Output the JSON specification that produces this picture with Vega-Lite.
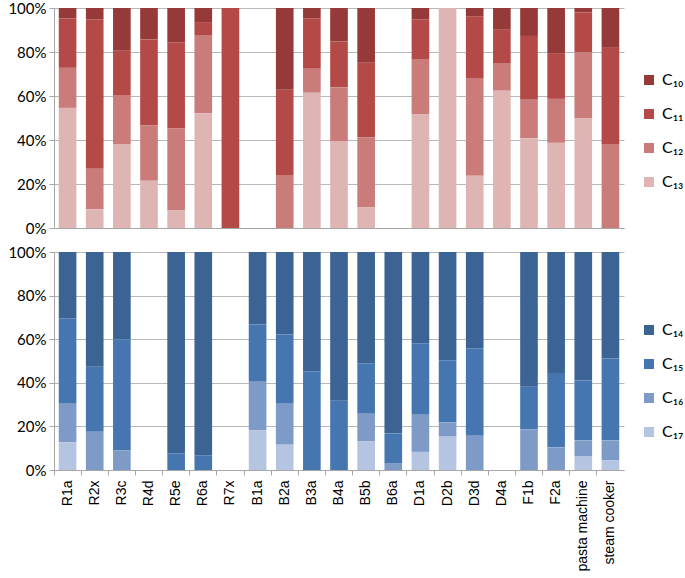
{
  "$schema": "https://vega.github.io/schema/vega-lite/v6.json",
  "background": "white",
  "padding": {"left": 7, "top": 1, "right": 0, "bottom": 0},
  "spacing": 9,
  "datasets": {
    "top": [
      {"cat": "R1a", "comp": "C₁₀", "v": 4.7}, {"cat": "R1a", "comp": "C₁₁", "v": 22.5}, {"cat": "R1a", "comp": "C₁₂", "v": 18.2}, {"cat": "R1a", "comp": "C₁₃", "v": 54.6},
      {"cat": "R2x", "comp": "C₁₀", "v": 5.3}, {"cat": "R2x", "comp": "C₁₁", "v": 67.8}, {"cat": "R2x", "comp": "C₁₂", "v": 18.4}, {"cat": "R2x", "comp": "C₁₃", "v": 8.5},
      {"cat": "R3c", "comp": "C₁₀", "v": 19.4}, {"cat": "R3c", "comp": "C₁₁", "v": 20.1}, {"cat": "R3c", "comp": "C₁₂", "v": 22.3}, {"cat": "R3c", "comp": "C₁₃", "v": 38.2},
      {"cat": "R4d", "comp": "C₁₀", "v": 14.3}, {"cat": "R4d", "comp": "C₁₁", "v": 39.1}, {"cat": "R4d", "comp": "C₁₂", "v": 25.1}, {"cat": "R4d", "comp": "C₁₃", "v": 21.5},
      {"cat": "R5e", "comp": "C₁₀", "v": 15.6}, {"cat": "R5e", "comp": "C₁₁", "v": 39.2}, {"cat": "R5e", "comp": "C₁₂", "v": 37.3}, {"cat": "R5e", "comp": "C₁₃", "v": 7.9},
      {"cat": "R6a", "comp": "C₁₀", "v": 6.4}, {"cat": "R6a", "comp": "C₁₁", "v": 6.2}, {"cat": "R6a", "comp": "C₁₂", "v": 35.2}, {"cat": "R6a", "comp": "C₁₃", "v": 52.2},
      {"cat": "R7x", "comp": "C₁₁", "v": 100},
      {"cat": "B2a", "comp": "C₁₀", "v": 37.2}, {"cat": "B2a", "comp": "C₁₁", "v": 38.7}, {"cat": "B2a", "comp": "C₁₂", "v": 24.1},
      {"cat": "B3a", "comp": "C₁₀", "v": 4.7}, {"cat": "B3a", "comp": "C₁₁", "v": 22.9}, {"cat": "B3a", "comp": "C₁₂", "v": 10.9}, {"cat": "B3a", "comp": "C₁₃", "v": 61.5},
      {"cat": "B4a", "comp": "C₁₀", "v": 15.2}, {"cat": "B4a", "comp": "C₁₁", "v": 20.9}, {"cat": "B4a", "comp": "C₁₂", "v": 24.3}, {"cat": "B4a", "comp": "C₁₃", "v": 39.6},
      {"cat": "B5b", "comp": "C₁₀", "v": 24.9}, {"cat": "B5b", "comp": "C₁₁", "v": 34.0}, {"cat": "B5b", "comp": "C₁₂", "v": 31.8}, {"cat": "B5b", "comp": "C₁₃", "v": 9.3},
      {"cat": "D1a", "comp": "C₁₀", "v": 5.3}, {"cat": "D1a", "comp": "C₁₁", "v": 18.2}, {"cat": "D1a", "comp": "C₁₂", "v": 24.9}, {"cat": "D1a", "comp": "C₁₃", "v": 51.6},
      {"cat": "D2b", "comp": "C₁₃", "v": 100},
      {"cat": "D3d", "comp": "C₁₀", "v": 3.8}, {"cat": "D3d", "comp": "C₁₁", "v": 28.4}, {"cat": "D3d", "comp": "C₁₂", "v": 44.1}, {"cat": "D3d", "comp": "C₁₃", "v": 23.7},
      {"cat": "D4a", "comp": "C₁₀", "v": 9.9}, {"cat": "D4a", "comp": "C₁₁", "v": 15.1}, {"cat": "D4a", "comp": "C₁₂", "v": 12.6}, {"cat": "D4a", "comp": "C₁₃", "v": 62.4},
      {"cat": "F1b", "comp": "C₁₀", "v": 12.7}, {"cat": "F1b", "comp": "C₁₁", "v": 29.0}, {"cat": "F1b", "comp": "C₁₂", "v": 17.5}, {"cat": "F1b", "comp": "C₁₃", "v": 40.8},
      {"cat": "F2a", "comp": "C₁₀", "v": 20.5}, {"cat": "F2a", "comp": "C₁₁", "v": 20.8}, {"cat": "F2a", "comp": "C₁₂", "v": 20.0}, {"cat": "F2a", "comp": "C₁₃", "v": 38.7},
      {"cat": "pasta machine", "comp": "C₁₀", "v": 2.0}, {"cat": "pasta machine", "comp": "C₁₁", "v": 18.2}, {"cat": "pasta machine", "comp": "C₁₂", "v": 30.0}, {"cat": "pasta machine", "comp": "C₁₃", "v": 49.8},
      {"cat": "steam cooker", "comp": "C₁₀", "v": 18.1}, {"cat": "steam cooker", "comp": "C₁₁", "v": 43.7}, {"cat": "steam cooker", "comp": "C₁₂", "v": 38.2}
    ],
    "bot": [
      {"cat": "R1a", "comp": "C₁₄", "v": 30.4}, {"cat": "R1a", "comp": "C₁₅", "v": 39.2}, {"cat": "R1a", "comp": "C₁₆", "v": 17.7}, {"cat": "R1a", "comp": "C₁₇", "v": 12.7},
      {"cat": "R2x", "comp": "C₁₄", "v": 52.6}, {"cat": "R2x", "comp": "C₁₅", "v": 29.8}, {"cat": "R2x", "comp": "C₁₆", "v": 17.6},
      {"cat": "R3c", "comp": "C₁₄", "v": 40.1}, {"cat": "R3c", "comp": "C₁₅", "v": 51.0}, {"cat": "R3c", "comp": "C₁₆", "v": 8.9},
      {"cat": "R5e", "comp": "C₁₄", "v": 92.4}, {"cat": "R5e", "comp": "C₁₅", "v": 7.6},
      {"cat": "R6a", "comp": "C₁₄", "v": 93.3}, {"cat": "R6a", "comp": "C₁₅", "v": 6.7},
      {"cat": "B1a", "comp": "C₁₄", "v": 33.2}, {"cat": "B1a", "comp": "C₁₅", "v": 26.3}, {"cat": "B1a", "comp": "C₁₆", "v": 22.2}, {"cat": "B1a", "comp": "C₁₇", "v": 18.3},
      {"cat": "B2a", "comp": "C₁₄", "v": 37.8}, {"cat": "B2a", "comp": "C₁₅", "v": 31.8}, {"cat": "B2a", "comp": "C₁₆", "v": 18.8}, {"cat": "B2a", "comp": "C₁₇", "v": 11.6},
      {"cat": "B3a", "comp": "C₁₄", "v": 54.7}, {"cat": "B3a", "comp": "C₁₅", "v": 45.3},
      {"cat": "B4a", "comp": "C₁₄", "v": 68.2}, {"cat": "B4a", "comp": "C₁₅", "v": 31.8},
      {"cat": "B5b", "comp": "C₁₄", "v": 51.1}, {"cat": "B5b", "comp": "C₁₅", "v": 23.1}, {"cat": "B5b", "comp": "C₁₆", "v": 12.7}, {"cat": "B5b", "comp": "C₁₇", "v": 13.1},
      {"cat": "B6a", "comp": "C₁₄", "v": 83.3}, {"cat": "B6a", "comp": "C₁₅", "v": 13.8}, {"cat": "B6a", "comp": "C₁₆", "v": 2.9},
      {"cat": "D1a", "comp": "C₁₄", "v": 41.9}, {"cat": "D1a", "comp": "C₁₅", "v": 32.7}, {"cat": "D1a", "comp": "C₁₆", "v": 17.1}, {"cat": "D1a", "comp": "C₁₇", "v": 8.3},
      {"cat": "D2b", "comp": "C₁₄", "v": 49.7}, {"cat": "D2b", "comp": "C₁₅", "v": 28.4}, {"cat": "D2b", "comp": "C₁₆", "v": 6.6}, {"cat": "D2b", "comp": "C₁₇", "v": 15.3},
      {"cat": "D3d", "comp": "C₁₄", "v": 44.2}, {"cat": "D3d", "comp": "C₁₅", "v": 40.1}, {"cat": "D3d", "comp": "C₁₆", "v": 15.7},
      {"cat": "F1b", "comp": "C₁₄", "v": 61.8}, {"cat": "F1b", "comp": "C₁₅", "v": 19.5}, {"cat": "F1b", "comp": "C₁₆", "v": 18.7},
      {"cat": "F2a", "comp": "C₁₄", "v": 55.5}, {"cat": "F2a", "comp": "C₁₅", "v": 34.1}, {"cat": "F2a", "comp": "C₁₆", "v": 10.4},
      {"cat": "pasta machine", "comp": "C₁₄", "v": 58.9}, {"cat": "pasta machine", "comp": "C₁₅", "v": 27.5}, {"cat": "pasta machine", "comp": "C₁₆", "v": 7.2}, {"cat": "pasta machine", "comp": "C₁₇", "v": 6.4},
      {"cat": "steam cooker", "comp": "C₁₄", "v": 48.8}, {"cat": "steam cooker", "comp": "C₁₅", "v": 37.6}, {"cat": "steam cooker", "comp": "C₁₆", "v": 9.2}, {"cat": "steam cooker", "comp": "C₁₇", "v": 4.4}
    ]
  },
  "config": {
    "view": {"stroke": null},
    "axis": {
      "gridColor": "#B8B8B8",
      "domainColor": "#A6A6A6",
      "tickColor": "#A6A6A6",
      "labelColor": "#000000",
      "titleColor": "#000000"
    },
    "axisY": {
      "labelFont": "Lato",
      "labelFontSize": 15,
      "tickSize": 5,
      "labelPadding": 3,
      "grid": true
    },
    "legend": {
      "orient": "none",
      "symbolType": "square",
      "symbolSize": 100,
      "symbolStrokeWidth": 0,
      "labelFont": "Lato",
      "labelFontSize": 16,
      "labelColor": "#000000",
      "rowPadding": 18,
      "labelOffset": 5,
      "title": null
    }
  },
  "resolve": {"scale": {"color": "independent"}, "legend": {"color": "independent"}},
  "vconcat": [
    {
      "width": 570,
      "height": 220,
      "data": {"name": "top"},
      "mark": {"type": "bar", "width": {"band": 0.65}},
      "encoding": {
        "x": {
          "field": "cat", "type": "nominal", "sort": null,
          "scale": {"domain": ["R1a","R2x","R3c","R4d","R5e","R6a","R7x","B1a","B2a","B3a","B4a","B5b","B6a","D1a","D2b","D3d","D4a","F1b","F2a","pasta machine","steam cooker"], "paddingInner": 0, "paddingOuter": 0},
          "axis": {"title": null, "labels": false, "ticks": false, "domain": true}
        },
        "y": {
          "field": "v", "type": "quantitative", "stack": "normalize",
          "scale": {"domain": [0, 1]},
          "axis": {"title": null, "format": ".0%", "values": [0, 0.2, 0.4, 0.6, 0.8, 1]}
        },
        "color": {
          "field": "comp", "type": "nominal",
          "scale": {"domain": ["C₁₀","C₁₁","C₁₂","C₁₃"], "range": ["#953A39","#B34A48","#C97C7A","#DFB5B4"]},
          "legend": {"legendX": 587, "legendY": 64}
        },
        "order": {"field": "comp", "sort": "descending"}
      }
    },
    {
      "width": 570,
      "height": 218,
      "data": {"name": "bot"},
      "mark": {"type": "bar", "width": {"band": 0.65}},
      "encoding": {
        "x": {
          "field": "cat", "type": "nominal", "sort": null,
          "scale": {"domain": ["R1a","R2x","R3c","R4d","R5e","R6a","R7x","B1a","B2a","B3a","B4a","B5b","B6a","D1a","D2b","D3d","D4a","F1b","F2a","pasta machine","steam cooker"], "paddingInner": 0, "paddingOuter": 0},
          "axis": {"title": null, "labelAngle": -90, "labelFont": "Liberation Sans", "labelFontSize": 14, "labelPadding": 5, "ticks": true, "tickSize": 5, "bandPosition": 0, "domain": true}
        },
        "y": {
          "field": "v", "type": "quantitative", "stack": "normalize",
          "scale": {"domain": [0, 1]},
          "axis": {"title": null, "format": ".0%", "values": [0, 0.2, 0.4, 0.6, 0.8, 1]}
        },
        "color": {
          "field": "comp", "type": "nominal",
          "scale": {"domain": ["C₁₄","C₁₅","C₁₆","C₁₇"], "range": ["#3B6494","#4676B0","#7E9BC8","#B5C4E0"]},
          "legend": {"legendX": 587, "legendY": 70}
        },
        "order": {"field": "comp", "sort": "descending"}
      }
    }
  ]
}
